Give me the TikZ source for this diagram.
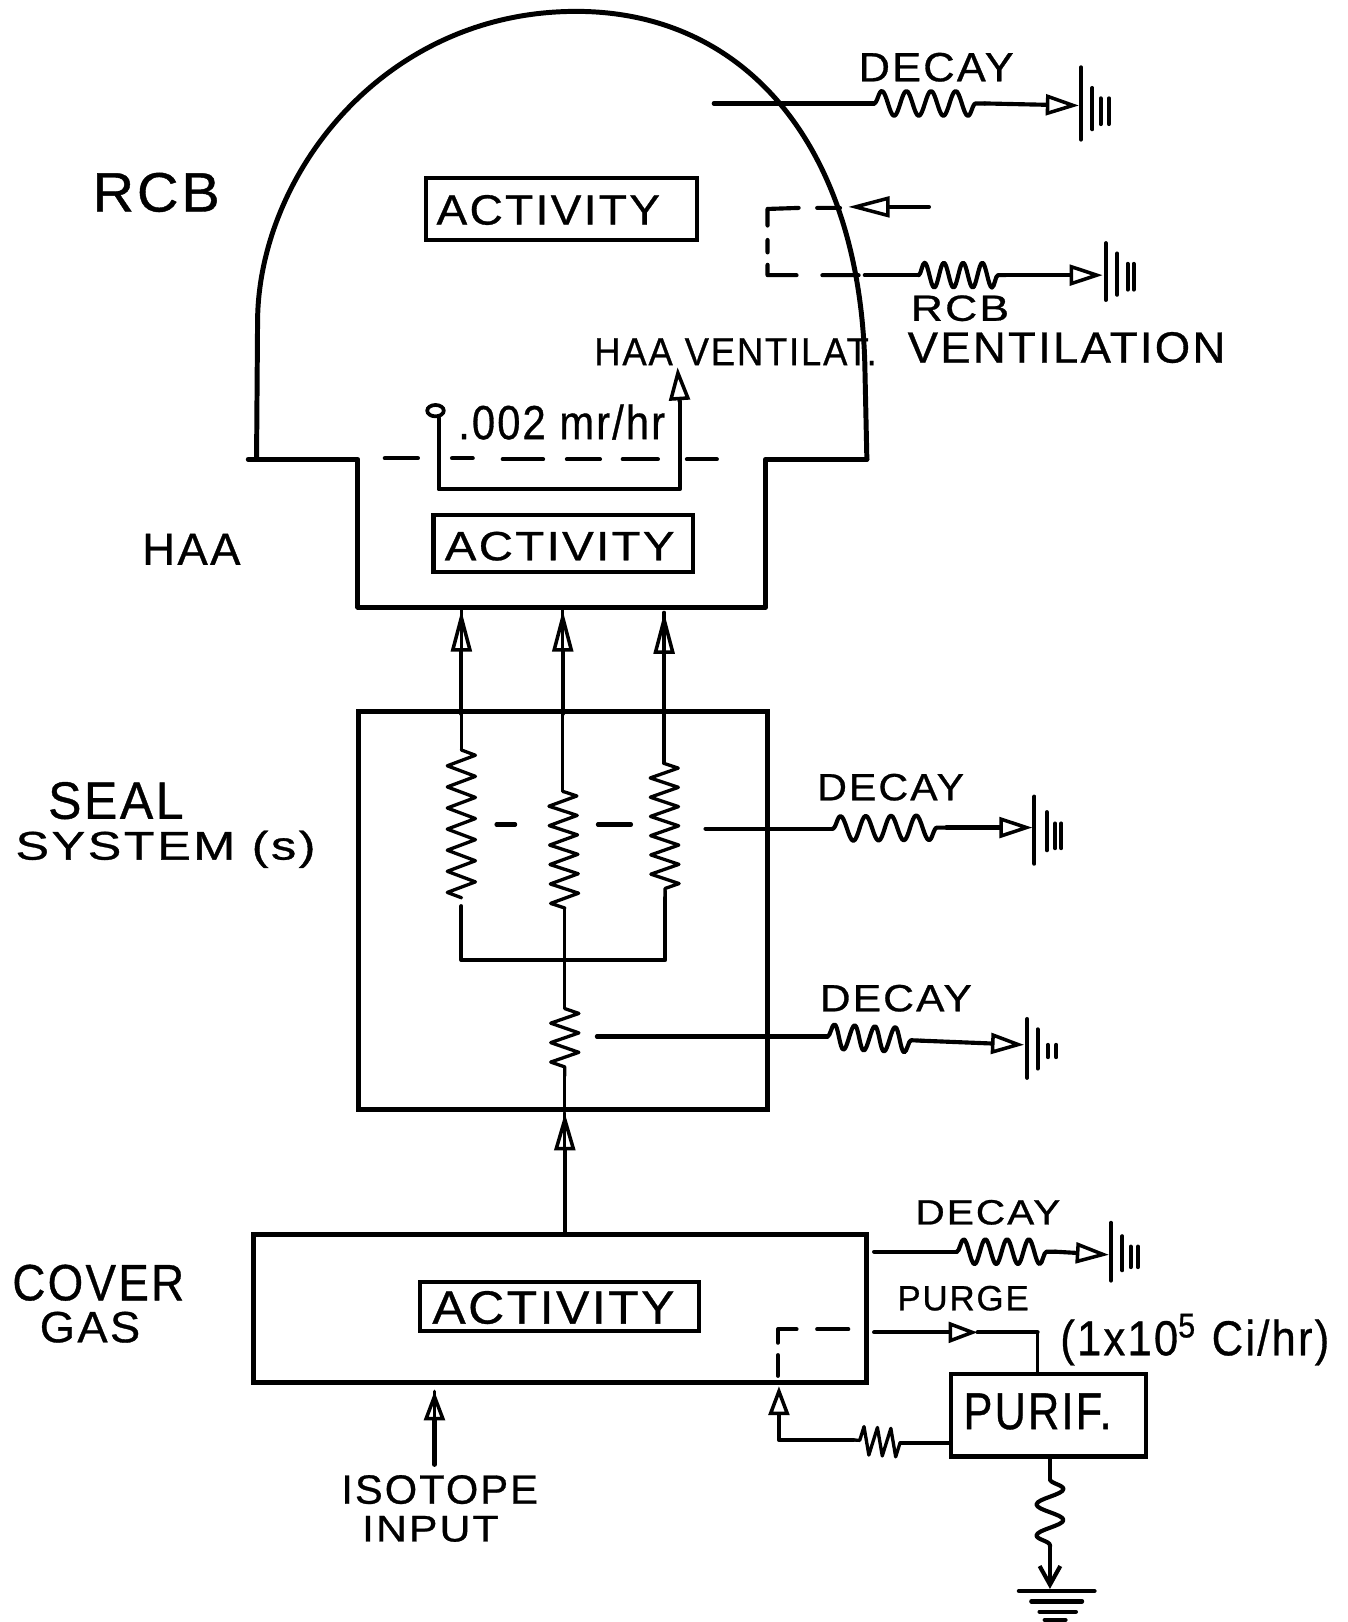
\documentclass[tikz,border=0pt]{standalone}
\usepackage{fontspec}
\usepackage{graphicx}
\setmainfont{Liberation Sans}
\newfontfamily\handfont[FakeBold=0.7,LetterSpace=5]{Liberation Sans}
\usetikzlibrary{arrows.meta,decorations.pathmorphing,decorations.pathreplacing,shapes.geometric}
\newdimen\upx \upx=0.5pt
\newcommand\hand[3]{\resizebox*{#1\upx}{#2\upx}{\handfont #3}}
\tikzset{
 x=0.5pt,y=-0.5pt,
 heavy/.style={line width=2.4pt,line cap=round,line join=round},
 wire/.style={line width=2pt,line cap=round,line join=round},
 thin wire/.style={line width=1.6pt,line cap=round,line join=round},
 labeltext/.style={inner sep=0pt,outer sep=0pt,text=black},
 boxed/.style={draw,line width=2pt,inner sep=0pt,outer sep=0pt},
 heavybox/.style={draw,line width=2.4pt,inner sep=0pt,outer sep=0pt},
 openhead/.style={-{Triangle[open,length=#1,width=10pt,line width=1.7pt]}},
 openhead/.default=16pt,
 wavy/.style={wire,decorate,decoration={snake,segment length=#1,amplitude=6pt,pre length=0pt,post length=0pt}},
 wavy/.default=13pt,
 resistor/.style={thin wire,decorate,decoration={zigzag,segment length=#1,amplitude=6.8pt,pre length=0pt,post length=0pt}},
 resistor/.default=10pt,
 groundbar/.style={line width=1.9pt,line cap=round},
}
\begin{document}
\begin{tikzpicture}
\useasboundingbox (0,0) rectangle (1303,1568);
\fill[white] (0,0) rectangle (1303,1568);

% RCB dome and HAA
\draw[heavy] (248,444) -- (249,310) .. controls (250,170) and (370,11) .. (557,11)
  .. controls (720,11) and (830,140) .. (836,351) -- (838,444);
\draw[heavy] (240,444) -- (346,444) -- (346,587) -- (740,587) -- (740,444) -- (838,444);
\coordinate (hd1a) at (372,443); \coordinate (hd1b) at (404,443);
\coordinate (hd2a) at (437,443); \coordinate (hd2b) at (457,443);
\coordinate (hd3a) at (486,444); \coordinate (hd3b) at (525,444);
\coordinate (hd4a) at (548,444); \coordinate (hd4b) at (580,444);
\coordinate (hd5a) at (602,444); \coordinate (hd5b) at (636,444);
\coordinate (hd6a) at (664,444); \coordinate (hd6b) at (693,444);
\draw[wire] (hd1a) -- (hd1b) (hd2a) -- (hd2b) (hd3a) -- (hd3b) (hd4a) -- (hd4b) (hd5a) -- (hd5b) (hd6a) -- (hd6b);

% boxes
\node[boxed,minimum width=262\upx,minimum height=60\upx] (act1) at (543,202) {};
\node[labeltext] (tact1) at (530,203) {\hand{216}{29}{ACTIVITY}};
\node[boxed,minimum width=251\upx,minimum height=55\upx] (act2) at (544.5,525.5) {};
\node[labeltext] (tact2) at (541,528) {\hand{222}{28}{ACTIVITY}};
\node[heavybox,minimum width=395\upx,minimum height=385\upx] (seal) at (544.5,880.5) {};
\node[heavybox,minimum width=593\upx,minimum height=143\upx] (cover) at (541.5,1264.5) {};
\node[boxed,minimum width=270\upx,minimum height=48\upx] (act3) at (541,1263) {};
\node[labeltext] (tact3) at (535,1264) {\hand{234}{32}{ACTIVITY}};
\node[boxed,minimum width=189\upx,minimum height=80\upx] (purif) at (1013.5,1368) {};
\node[labeltext] (tpurif) at (1003,1364.5) {\hand{143}{35}{PURIF.}};

% labels
\node[labeltext] (lrcb) at (151,186) {\hand{123}{38}{RCB}};
\node[labeltext] (lhaa) at (185,531) {\hand{95}{30}{HAA}};
\node[labeltext] (lseal) at (112,774) {\hand{131}{36}{SEAL}};
\node[labeltext] (lsys) at (160,821) {\hand{290}{36}{SYSTEM (s)}};
\node[labeltext] (lcov) at (95,1240) {\hand{166}{35}{COVER}};
\node[labeltext] (lgas) at (87,1283) {\hand{97}{30}{GAS}};
\node[labeltext] (liso) at (425,1440) {\hand{190}{28}{ISOTOPE}};
\node[labeltext] (linp) at (416,1478) {\hand{132}{25}{INPUT}};
\node[labeltext] (ld1) at (905,65) {\hand{150}{28}{DECAY}};
\node[labeltext] (lrcb2) at (928,298) {\hand{95}{25}{RCB}};
\node[labeltext] (lvent) at (1031,336) {\hand{307}{30}{VENTILATION}};
\node[labeltext] (lhaav) at (711,340) {\hand{273}{26}{HAA VENTILAT.}};
\node[labeltext] (lrate) at (543,408) {\hand{200}{34}{.002 mr/hr}};
\node[labeltext] (ld2) at (861,761) {\hand{142}{26}{DECAY}};
\node[labeltext] (ld3) at (866,965) {\hand{147}{26}{DECAY}};
\node[labeltext] (ld4) at (955,1172) {\hand{140}{24}{DECAY}};
\node[labeltext] (lpurge) at (931,1255) {\hand{127}{24}{PURGE}};
\node[labeltext] (lci) at (1155,1295) {\hand{260}{50}{(1x10\textsuperscript{5} Ci/hr)}};

% top decay
\coordinate (a1) at (690,100); \coordinate (a2) at (845,100); \coordinate (a3) at (952,100);
\coordinate (a4) at (1043,102);
\draw[wire] (a1) -- (a2);
\draw[wavy=11.9pt] (a2) -- (a3);
\draw[wire,openhead] (a3) -- (a4);
\draw[groundbar] (1045,65) -- (1045,135) (1056,85) -- (1056,125) (1064,95) -- (1064,120) (1072,95) -- (1072,120);

% RCB ventilation
\coordinate (b1) at (898,200); \coordinate (b2) at (820,200); \coordinate (b3) at (812,201);
\coordinate (b4) at (742,202); \coordinate (b5) at (742,266); \coordinate (b6) at (830,266);
\draw[wire,openhead=20pt] (b1) -- (b2);
\draw[wire] (b3) -- (790,201) (772,201) -- (b4) -- (742,218) (742,232) -- (742,244) (742,256) -- (b5) -- (770,266) (795,266) -- (b6);
\coordinate (c1) at (836,266); \coordinate (c2) at (888,266); \coordinate (c3) at (972,266); \coordinate (c4) at (1066,266);
\draw[wire] (c1) -- (c2);
\draw[wavy=9.3pt] (c2) -- (c3);
\draw[wire,openhead] (c3) -- (c4);
\draw[groundbar] (1069,235) -- (1069,290) (1080,245) -- (1080,285) (1090,255) -- (1090,280) (1096,255) -- (1096,280);

% HAA ventilation
\coordinate (v0) at (424,404); \coordinate (v1) at (424,473); \coordinate (v2) at (657,473); \coordinate (v3) at (655,355);
\draw[wire] (v0) -- (v1) -- (v2) -- (657,388);
\draw[wire,openhead] (657,388) -- (v3);
\node[draw,ellipse,line width=1.8pt,minimum width=16\upx,minimum height=11\upx,inner sep=0pt] (vo) at (421,397) {};

% three parallel paths
\coordinate (p1t) at (446,590); \coordinate (p2t) at (544,590); \coordinate (p3t) at (642,592);
\coordinate (p1a) at (446,725); \coordinate (p1b) at (446,868);
\coordinate (p2a) at (544,765); \coordinate (p2b) at (546,878);
\coordinate (p3a) at (642,738); \coordinate (p3b) at (643,868);
\draw[wire,openhead=20pt] (446,690) -- (p1t);
\draw[wire,openhead=20pt] (544,690) -- (p2t);
\draw[wire,openhead=20pt] (642,690) -- (p3t);
\draw[thin wire] (446,632) -- (p1t) (544,632) -- (p2t) (642,634) -- (p3t);
\draw[thin wire] (446,690) -- (p1a);
\draw[thin wire] (544,690) -- (p2a);
\draw[thin wire] (642,690) -- (p3a);
\draw[resistor=10.2pt] (p1a) -- (p1b);
\draw[resistor=9.4pt] (p2a) -- (p2b);
\draw[resistor=9.3pt] (p3a) -- (p3b);
\coordinate (j1) at (446,928); \coordinate (j2) at (643,928);
\coordinate (j0) at (446,876);
\draw[wire] (j0) -- (j1) -- (j2) -- (p3b);
\coordinate (s1) at (546,975); \coordinate (s2) at (546,1040);
\draw[thin wire] (p2b) -- (s1);
\draw[resistor=9.4pt] (s1) -- (s2);
\draw[thin wire] (s2) -- (546,1075);
\coordinate (t1) at (480,797); \coordinate (t2) at (498,797); \coordinate (t3) at (578,797); \coordinate (t4) at (610,797);
\draw[wire] (t1) -- (t2) (t3) -- (t4);

% seal system decay
\coordinate (e1) at (682,801); \coordinate (e2) at (805,801); \coordinate (e3) at (915,800); \coordinate (e4) at (998,800);
\draw[wire] (e1) -- (e2);
\draw[wavy=12.2pt] (e2) -- (e3);
\draw[wire,openhead] (e3) -- (e4);
\draw[groundbar] (1000,770) -- (1000,835) (1012,785) -- (1012,822) (1020,796) -- (1020,820) (1026,796) -- (1026,820);
\coordinate (f1) at (577,1002); \coordinate (f2) at (800,1002); \coordinate (f3) at (890,1006); \coordinate (f4) at (990,1010);
\draw[wire] (f1) -- (f2);
\draw[wavy=9.8pt] (f2) -- (f3);
\draw[wire,openhead] (f3) -- (f4);
\draw[groundbar] (993,985) -- (993,1042) (1003,995) -- (1003,1033) (1013,1010) -- (1013,1022) (1021,1010) -- (1021,1022);

% cover gas to seal
\coordinate (g1) at (546,1192); \coordinate (g2) at (546,1076);
\draw[wire,openhead=18pt] (g1) -- (g2);
\draw[thin wire] (546,1112) -- (g2);

% cover gas decay
\coordinate (h1) at (845,1210); \coordinate (h2) at (925,1210); \coordinate (h3) at (1020,1210); \coordinate (h4) at (1072,1213);
\draw[wire] (h1) -- (h2);
\draw[wavy=10.5pt] (h2) -- (h3);
\draw[wire,openhead] (h3) -- (h4);
\draw[groundbar] (1074,1182) -- (1074,1238) (1085,1195) -- (1085,1228) (1093,1205) -- (1093,1225) (1100,1205) -- (1100,1225);

% purge
\coordinate (k1) at (845,1288); \coordinate (k2) at (945,1288); \coordinate (k3) at (1003,1288); \coordinate (k4) at (1003,1328);
\draw[wire,openhead=14pt] (k1) -- (k2);
\draw[wire] (k2) -- (k3);
\draw[thin wire] (k3) -- (k4);
\coordinate (m1) at (919,1395); \coordinate (m2) at (870,1395); \coordinate (m3) at (825,1392); \coordinate (m4) at (753,1392); \coordinate (m5) at (753,1340);
\draw[thin wire] (m1) -- (m2);
\draw[resistor=6.5pt] (m2) -- (m3);
\draw[wire,openhead=14pt] (m3) -- (m4) -- (m5);
\coordinate (n1) at (752,1330); \coordinate (n2) at (752,1285); \coordinate (n3) at (820,1285);
\draw[wire] (n1) -- (752,1310) (752,1298) -- (n2) -- (770,1285) (790,1285) -- (n3);

% isotope input
\coordinate (q1) at (420,1416); \coordinate (q2) at (420,1345);
\draw[wire,openhead=14pt] (q1) -- (q2);
\draw[thin wire] (420,1372) -- (q2);

% purifier to ground
\coordinate (r1) at (1015,1410); \coordinate (r2) at (1015,1430); \coordinate (r3) at (1015,1495); \coordinate (r4) at (1015,1536);
\draw[wire] (r1) -- (r2);
\draw[wire,decorate,decoration={snake,segment length=15pt,amplitude=6.5pt}] (r2) -- (r3);
\draw[wire,-{Straight Barb[length=9pt,width=10pt]}] (r3) -- (r4);
\draw[groundbar,line width=2.1pt] (985,1538) -- (1058,1538) (997,1548) -- (1046,1548) (1005,1558) -- (1040,1558) (1010,1566) -- (1030,1566);
\end{tikzpicture}
\end{document}
